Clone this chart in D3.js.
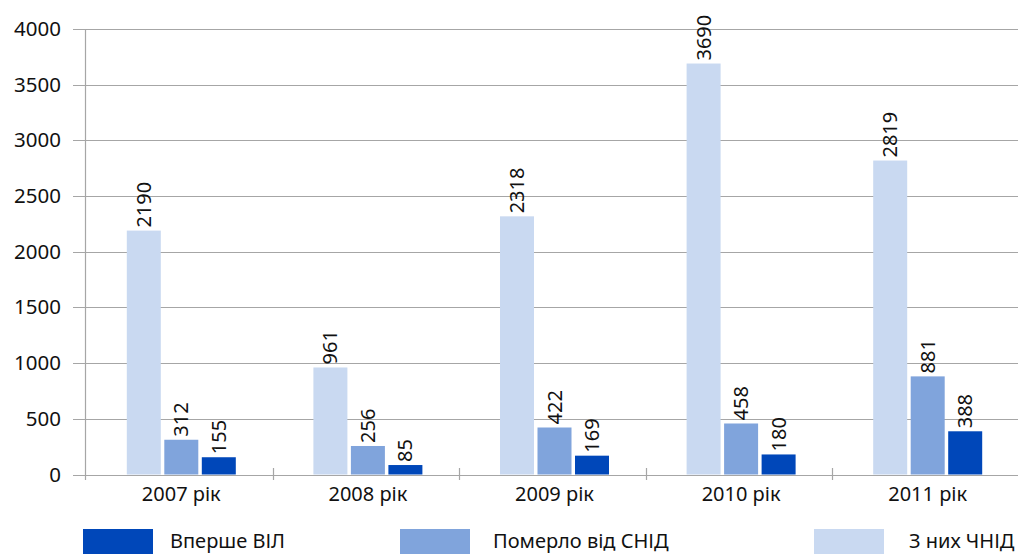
<!DOCTYPE html>
<html>
<head>
<meta charset="utf-8">
<style>
  body { margin: 0; background: #fff; }
  svg text { font-family: "Noto Sans", sans-serif; fill: #111; }
</style>
<script src="https://d3js.org/d3.v7.min.js"></script>
</head>
<body>
<svg id="chart" width="1018" height="554"></svg>
<script>
var years = ["2007 рік", "2008 рік", "2009 рік", "2010 рік", "2011 рік"];
var seriesNames = ["З них ЧНІД", "Померло від СНІД", "Вперше ВІЛ"];
var chnid = [2190, 961, 2318, 3690, 2819];
var pomerlo = [312, 256, 422, 458, 881];
var vpershe = [155, 85, 169, 180, 388];
var yTicks = [0, 500, 1000, 1500, 2000, 2500, 3000, 3500, 4000];

var colors = ["#c9d9f1", "#80a4dc", "#0047b9"];
var seriesData = [chnid, pomerlo, vpershe];

var svg = d3.select("#chart");

var x = d3.scaleBand().domain(years).range([86, 1019]).paddingInner(0).paddingOuter(0);
var y = d3.scaleLinear().domain([0, 4000]).range([474.5, 29]);
var barW = 34, gap = 3.5;

// gridlines
svg.append("g").selectAll("line").data(yTicks).join("line")
    .attr("x1", 73).attr("x2", 1018)
    .attr("y1", d => Math.round(y(d)) + 0.5).attr("y2", d => Math.round(y(d)) + 0.5)
    .attr("stroke", "#a6a6a6").attr("stroke-width", 1.2);

// y labels
svg.append("g").selectAll("text").data(yTicks).join("text")
    .attr("x", 61).attr("y", d => y(d) + 7)
    .attr("text-anchor", "end")
    .style("font-size", "20.5px")
    .text(d => d);

// y axis line
svg.append("line").attr("x1", 85.5).attr("x2", 85.5).attr("y1", 29).attr("y2", 480)
    .attr("stroke", "#a6a6a6").attr("stroke-width", 1.2);

// x ticks
svg.append("g").selectAll("line").data(years.slice(1)).join("line")
    .attr("x1", d => Math.round(x(d)) + 0.5).attr("x2", d => Math.round(x(d)) + 0.5)
    .attr("y1", 468).attr("y2", 480)
    .attr("stroke", "#a6a6a6").attr("stroke-width", 1.2);

// bars
var groupW = barW * 3 + gap * 2;
seriesData.forEach(function(vals, s) {
    var g = svg.append("g");
    years.forEach(function(yr, i) {
        var bx = x(yr) + x.bandwidth() / 2 - groupW / 2 + 2 + s * (barW + gap);
        g.append("rect")
            .attr("x", bx).attr("y", y(vals[i]))
            .attr("width", barW).attr("height", y(0) - y(vals[i]))
            .attr("fill", colors[s]);
        g.append("text")
            .attr("transform", "translate(" + (bx + barW / 2 + 7) + "," + (y(vals[i]) - 3) + ") rotate(-90)")
            .attr("text-anchor", "start")
            .style("font-size", "20px")
            .text(vals[i]);
    });
});

// x labels
svg.append("g").selectAll("text").data(years).join("text")
    .attr("x", d => x(d) + x.bandwidth() / 2 + 2).attr("y", 501)
    .attr("text-anchor", "middle")
    .style("font-size", "20px")
    .text(d => d);

// legend
var legend = [
    {name: seriesNames[2], color: colors[2], sx: 83, tx: 170},
    {name: seriesNames[1], color: colors[1], sx: 400, tx: 493},
    {name: seriesNames[0], color: colors[0], sx: 814, tx: 909}
];
legend.forEach(function(l) {
    svg.append("rect").attr("x", l.sx).attr("y", 529).attr("width", 70).attr("height", 25).attr("fill", l.color);
    svg.append("text").attr("x", l.tx).attr("y", 548).style("font-size", "20px").text(l.name);
});
</script>
</body>
</html>
